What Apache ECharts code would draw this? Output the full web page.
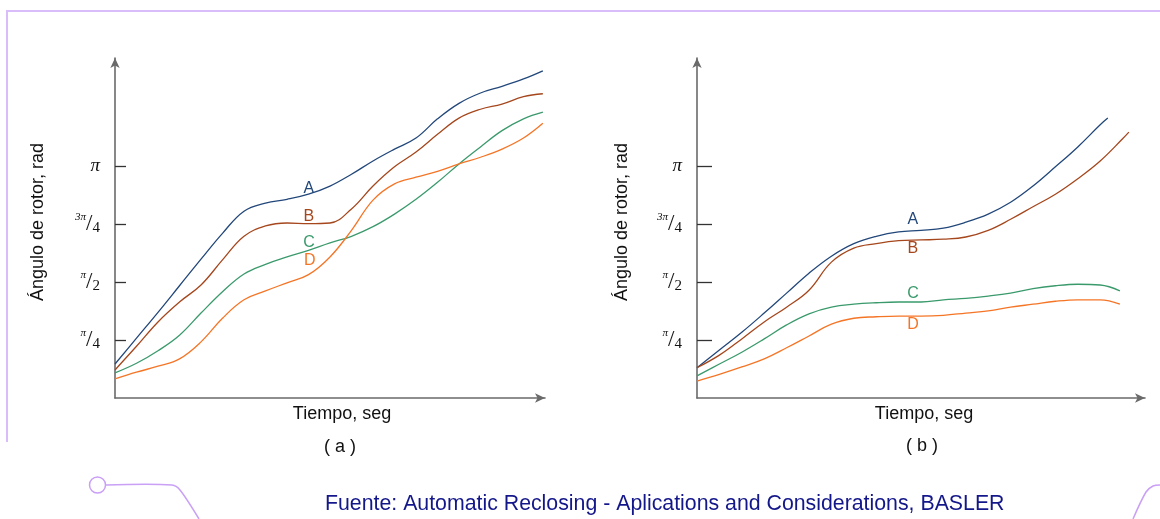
<!DOCTYPE html>
<html>
<head>
<meta charset="utf-8">
<script src="https://cdn.jsdelivr.net/npm/echarts@6/dist/echarts.min.js"></script>
<style>
  html, body { margin: 0; padding: 0; background: #fff; }
  #chart { width: 1160px; height: 519px; }
</style>
</head>
<body>
<div id="chart"></div>
<script>
// valores en radianes, tiempo en unidades arbitrarias (0..10)
const PI4 = Math.PI / 4
const ticksY = [PI4, 2 * PI4, 3 * PI4, 4 * PI4]

// (a) - izquierda
const tiempoA = [0, 0.5, 1, 1.5, 2, 2.5, 3, 3.5, 4, 4.5, 5, 5.5, 6, 6.5, 7, 7.5, 8, 8.5, 9, 9.5, 9.95]
const curvaA_a = [0.46, 0.81, 1.16, 1.52, 1.88, 2.23, 2.53, 2.64, 2.69, 2.76, 2.87, 3.03, 3.21, 3.37, 3.52, 3.78, 3.99, 4.13, 4.22, 4.32, 4.43]
const curvaB_a = [0.38, 0.70, 1.03, 1.30, 1.53, 1.87, 2.19, 2.33, 2.37, 2.36, 2.37, 2.56, 2.87, 3.13, 3.33, 3.57, 3.79, 3.91, 3.98, 4.08, 4.12]
const curvaC_a = [0.34, 0.47, 0.64, 0.85, 1.15, 1.44, 1.68, 1.81, 1.91, 2.00, 2.10, 2.19, 2.32, 2.49, 2.69, 2.92, 3.17, 3.40, 3.62, 3.78, 3.87]
const curvaD_a = [0.26, 0.35, 0.43, 0.53, 0.76, 1.08, 1.33, 1.45, 1.56, 1.67, 1.91, 2.27, 2.68, 2.90, 2.99, 3.07, 3.17, 3.26, 3.37, 3.52, 3.72]

// (b) - derecha
const tiempoB_A = [0, 0.5, 1, 1.5, 2, 2.5, 3, 3.5, 4, 4.5, 5, 5.5, 6, 6.5, 7, 7.5, 8, 8.5, 9, 9.17]
const tiempoB_B = [0, 0.5, 1, 1.5, 2, 2.5, 3, 3.5, 4, 4.5, 5, 5.5, 6, 6.5, 7, 7.5, 8, 8.5, 9, 9.5, 9.64]
const tiempoB_CD = [0, 0.5, 1, 1.5, 2, 2.5, 3, 3.5, 4, 4.5, 5, 5.5, 6, 6.5, 7, 7.5, 8, 8.5, 9, 9.44]
const curvaA_b = [0.41, 0.65, 0.89, 1.15, 1.42, 1.69, 1.92, 2.09, 2.19, 2.25, 2.27, 2.30, 2.38, 2.49, 2.65, 2.87, 3.13, 3.40, 3.70, 3.79]
const curvaB_b = [0.41, 0.58, 0.80, 1.03, 1.23, 1.46, 1.84, 2.03, 2.09, 2.13, 2.14, 2.15, 2.18, 2.27, 2.42, 2.59, 2.76, 2.97, 3.21, 3.51, 3.60]
const curvaC_b = [0.30, 0.46, 0.62, 0.80, 0.99, 1.14, 1.23, 1.27, 1.29, 1.30, 1.30, 1.33, 1.35, 1.38, 1.42, 1.48, 1.52, 1.54, 1.53, 1.45]
const curvaD_b = [0.23, 0.32, 0.42, 0.53, 0.68, 0.84, 1.00, 1.08, 1.10, 1.11, 1.11, 1.12, 1.15, 1.18, 1.23, 1.27, 1.31, 1.33, 1.33, 1.27]

// posicion de las letras (tiempo, radianes)
const etiquetas_a = [[4.51, 2.83], [4.51, 2.45], [4.51, 2.11], [4.53, 1.86]]
const etiquetas_b = [[4.82, 2.41], [4.82, 2.02], [4.82, 1.42], [4.82, 0.99]]

const nombres = ['A', 'B', 'C', 'D']
const colores = ['#22477a', '#a5461c', '#3a9a6c', '#f57526']

const chart = echarts.init(document.getElementById('chart'))

function piLabel(v) {
    const k = Math.round(v / PI4)
    if (k === 4) return '{pi|π}'
    if (k === 3) return '{n|3π}{s|/}{d|4}'
    if (k === 2) return '{n|π}{s|/}{d|2}'
    if (k === 1) return '{n|π}{s|/}{d|4}'
    return ''
}

const richPi = {
    pi: { fontFamily: 'Liberation Serif', fontStyle: 'italic', fontSize: 19, color: '#111' },
    n: { fontFamily: 'Liberation Serif', fontStyle: 'italic', fontSize: 11, color: '#111', verticalAlign: 'top', lineHeight: 12 },
    s: { fontFamily: 'Liberation Serif', fontSize: 23, color: '#111', lineHeight: 24 },
    d: { fontFamily: 'Liberation Serif', fontSize: 15, color: '#111', verticalAlign: 'bottom', lineHeight: 15 }
}

function xAxisDef(idx, pad) {
    return {
        gridIndex: idx, type: 'value', min: 0, max: 10,
        axisLine: { show: true, lineStyle: { color: '#6a6a6a', width: 1.6 }, symbol: ['none', 'arrow'], symbolSize: [7, 10] },
        axisTick: { show: false }, axisLabel: { show: false }, splitLine: { show: false },
        name: 'Tiempo, seg', nameLocation: 'middle', nameGap: 7,
        nameTextStyle: { fontSize: 18, color: '#111', fontFamily: 'Liberation Sans', padding: pad }
    }
}

function yAxisDef(idx, tickLen, gap) {
    return {
        gridIndex: idx, type: 'value', min: 0, max: 4.604,
        axisLine: { show: true, lineStyle: { color: '#6a6a6a', width: 1.6 }, symbol: ['none', 'arrow'], symbolSize: [7, 10] },
        axisTick: { show: true, inside: true, length: tickLen, customValues: ticksY, lineStyle: { color: '#333', width: 1.3 } },
        axisLabel: { show: true, customValues: ticksY, margin: 15, formatter: piLabel, rich: richPi },
        splitLine: { show: false },
        name: 'Ángulo de rotor, rad', nameLocation: 'middle', nameGap: gap,
        nameTextStyle: { fontSize: 18, color: '#111', fontFamily: 'Liberation Sans', padding: [0, 0, 0, 12] }
    }
}

function linea(idx, nombre, color, tiempos, valores, etiqueta) {
    return {
        type: 'line', xAxisIndex: idx, yAxisIndex: idx, name: nombre,
        data: tiempos.map((t, i) => [t, valores[i]]),
        smooth: 0.4, showSymbol: false, symbol: 'none',
        lineStyle: { color: color, width: 1.3 },
        markPoint: {
            symbol: 'circle', symbolSize: 1, itemStyle: { color: 'rgba(0,0,0,0)' },
            label: { show: true, position: 'inside', formatter: nombre, color: color, fontSize: 16, fontFamily: 'Liberation Sans' },
            data: [{ coord: etiqueta }]
        },
        animation: false
    }
}

const series = []
const curvas_a = [curvaA_a, curvaB_a, curvaC_a, curvaD_a]
const curvas_b = [curvaA_b, curvaB_b, curvaC_b, curvaD_b]
const tiempos_b = [tiempoB_A, tiempoB_B, tiempoB_CD, tiempoB_CD]
nombres.forEach((n, i) => {
    series.push(linea(0, n, colores[i], tiempoA, curvas_a[i], etiquetas_a[i]))
    series.push(linea(1, n, colores[i], tiempos_b[i], curvas_b[i], etiquetas_b[i]))
})

const marco = '#d9bdfb'
const deco = '#c9a0f6'

const option = {
    animation: false,
    backgroundColor: '#fff',
    textStyle: { fontFamily: 'Liberation Sans' },
    grid: [
        { left: 115, top: 58, width: 430, height: 340 },
        { left: 697, top: 58, width: 448, height: 340 }
    ],
    xAxis: [xAxisDef(0, [0, 0, 0, 24]), xAxisDef(1, [0, 0, 0, 6])],
    yAxis: [yAxisDef(0, 11, 68), yAxisDef(1, 15, 66)],
    series: series,
    graphic: [
        { type: 'line', shape: { x1: 7, y1: 11, x2: 1160, y2: 11 }, style: { stroke: marco, lineWidth: 2 } },
        { type: 'line', shape: { x1: 7, y1: 10, x2: 7, y2: 442 }, style: { stroke: marco, lineWidth: 2 } },
        { type: 'circle', shape: { cx: 97.5, cy: 485, r: 8 }, style: { fill: '#fff', stroke: deco, lineWidth: 1.5 } },
        { type: 'polyline', shape: { points: [[106, 485], [172, 485], [180, 490], [199, 519]], smooth: 0.3 }, style: { stroke: deco, lineWidth: 1.5, fill: null } },
        { type: 'polyline', shape: { points: [[1133, 519], [1146, 492], [1153, 486], [1160, 485]], smooth: 0.3 }, style: { stroke: deco, lineWidth: 1.5, fill: null } },
        { type: 'text', left: 324, top: 438, style: { text: '( a )', fontSize: 18, fill: '#111', fontFamily: 'Liberation Sans' } },
        { type: 'text', left: 906, top: 437, style: { text: '( b )', fontSize: 18, fill: '#111', fontFamily: 'Liberation Sans' } },
        { type: 'text', left: 325, top: 494, style: { text: 'Fuente: Automatic Reclosing - Aplications and Considerations, BASLER', fontSize: 21.3, fill: '#14178a', fontFamily: 'Liberation Sans' } }
    ]
}

chart.setOption(option)
</script>
</body>
</html>
